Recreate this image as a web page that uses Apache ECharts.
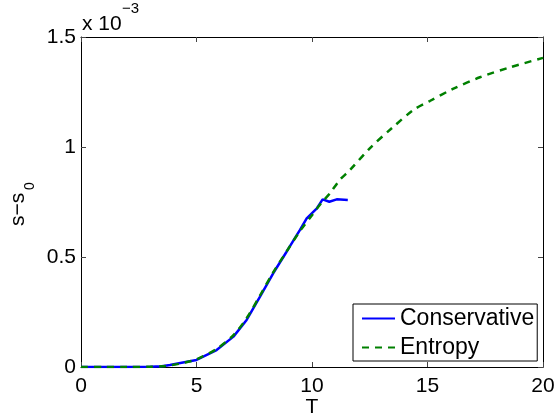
<!DOCTYPE html>
<html>
<head>
<meta charset="utf-8">
<style>
  html, body { margin: 0; padding: 0; background: #fff; }
  #chart { width: 556px; height: 418px; }
</style>
<script src="https://cdn.jsdelivr.net/npm/echarts@6/dist/echarts.min.js"></script>
</head>
<body>
<div id="chart"></div>
<script>
// s - s0 (units of 1e-3) against T for the two schemes
const conservativeT = [0, 1, 2, 3, 3.5, 3.85, 4.3, 5.0, 5.87, 6.6, 7.17, 7.75, 8.32, 8.9, 9.48, 9.77, 10.2, 10.46, 10.75, 11.07, 11.55];
const conservativeS = [0, 0, 0, 0.001, 0.003, 0.009, 0.018, 0.032, 0.077, 0.138, 0.214, 0.32, 0.426, 0.524, 0.623, 0.676, 0.72, 0.762, 0.751, 0.762, 0.759];

const entropyT = [0, 1, 2, 3, 3.5, 4.0, 4.5, 5.0, 5.87, 6.6, 7.17, 7.75, 8.32, 8.9, 9.48, 10.0, 10.4, 10.78, 11.2, 11.64, 12.5, 13.45, 14.39, 15.1, 16.1, 17.27, 18.57, 20.0];
const entropyS = [0, 0, 0, 0.001, 0.003, 0.01, 0.02, 0.035, 0.082, 0.145, 0.222, 0.325, 0.43, 0.525, 0.618, 0.69, 0.745, 0.79, 0.85, 0.895, 0.994, 1.085, 1.168, 1.209, 1.264, 1.317, 1.362, 1.405];

const xTicks = [0, 5, 10, 15, 20];
const yTicks = [0, 0.5, 1, 1.5];

const FONT = "'Liberation Sans', Arial, Helvetica, sans-serif";
const FS = 21;

function pairs(xs, ys) { return xs.map((x, i) => [x, ys[i]]); }

const chart = echarts.init(document.getElementById('chart'), null, { renderer: 'canvas' });

const tickStyle = { show: true, inside: true, length: 5, lineStyle: { color: '#444', width: 1 } };
const lineAx = { show: true, onZero: false, lineStyle: { color: '#000', width: 1 } };

chart.setOption({
  animation: false,
  backgroundColor: '#fff',
  grid: { left: 81, right: 13, top: 37, bottom: 51, containLabel: false, outerBoundsMode: 'none' },
  xAxis: [
    {
      type: 'value', min: xTicks[0], max: xTicks[xTicks.length - 1], interval: 5,
      axisLine: lineAx, axisTick: tickStyle, splitLine: { show: false },
      axisLabel: { color: '#000', fontFamily: FONT, fontSize: FS, margin: 9 },
      name: 'T', nameLocation: 'middle', nameGap: 30, nameMoveOverlap: false,
      nameTextStyle: { color: '#000', fontFamily: FONT, fontSize: FS }
    },
    {
      type: 'value', position: 'top', min: 0, max: 20, interval: 5,
      axisLine: lineAx, axisTick: tickStyle, axisLabel: { show: false }, splitLine: { show: false }
    }
  ],
  yAxis: [
    {
      type: 'value', min: yTicks[0], max: yTicks[yTicks.length - 1], interval: 0.5,
      axisLine: lineAx, axisTick: tickStyle, splitLine: { show: false },
      axisLabel: { color: '#000', fontFamily: FONT, fontSize: FS, margin: 5 }
    },
    {
      type: 'value', position: 'right', min: 0, max: 1.5, interval: 0.5,
      axisLine: lineAx, axisTick: tickStyle, axisLabel: { show: false }, splitLine: { show: false }
    }
  ],
  legend: {
    orient: 'vertical', left: 353, top: 304,
    backgroundColor: '#fff', borderColor: '#000', borderWidth: 1,
    padding: [3, 3, 2, 8], itemGap: 6, itemWidth: 33, itemHeight: 22,
    itemStyle: { opacity: 0 },
    lineStyle: { width: 2 },
    textStyle: { color: '#000', fontFamily: FONT, fontSize: 23 },
    data: ['Conservative', 'Entropy']
  },
  graphic: [
    { type: 'text', left: 82, top: 14, style: { text: 'x 10', fill: '#000', font: `${FS}px ${FONT}` } },
    { type: 'text', left: 122, top: 1, style: { text: '−3', fill: '#000', font: `15px ${FONT}` } },
    { type: 'text', x: 8, y: 226, rotation: Math.PI / 2, style: { text: 's−s', fill: '#000', font: `${FS}px ${FONT}` } },
    { type: 'text', x: 23, y: 190, rotation: Math.PI / 2, style: { text: '0', fill: '#000', font: `14px ${FONT}` } }
  ],
  series: [
    {
      name: 'Conservative', type: 'line', data: pairs(conservativeT, conservativeS),
      showSymbol: false, symbol: 'none', smooth: false,
      lineStyle: { color: '#0000ff', width: 2.5 }, itemStyle: { color: '#0000ff' }, z: 3
    },
    {
      name: 'Entropy', type: 'line', data: pairs(entropyT, entropyS),
      showSymbol: false, symbol: 'none', smooth: 0.3,
      lineStyle: { color: '#008000', width: 2.5, type: [7, 6] }, itemStyle: { color: '#008000' }, z: 4
    }
  ]
});
</script>
</body>
</html>
